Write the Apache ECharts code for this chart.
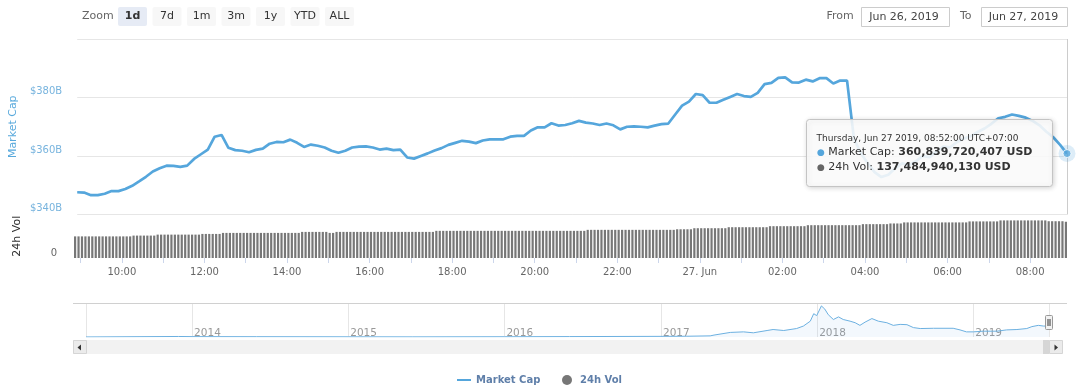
<!DOCTYPE html>
<html><head><meta charset="utf-8">
<script src="https://cdn.jsdelivr.net/npm/echarts@6/dist/echarts.min.js"></script>
<style>html,body{margin:0;padding:0;background:#fff}#c{width:1080px;height:387px}</style>
</head><body><div id="c"></div>
<script>
// ---------------- DATA ----------------
// last sample of the 1-day view (display time, UTC+07:00)
const endTime = Date.UTC(2019, 5, 27, 8, 52);
const capStepMinutes = 10;
const volStepMinutes = 5;

// Market cap, billions USD, every 10 minutes, Jun 26 08:52 -> Jun 27 08:52
const marketCapB = [
  347.6,347.5,346.6,346.6,347.1,348.0,348.0,348.7,349.8,351.3,
  352.9,354.7,355.8,356.7,356.6,356.3,356.7,359.0,360.6,362.2,
  366.6,367.2,362.8,362.0,361.8,361.3,362.1,362.5,364.2,364.8,
  364.7,365.6,364.5,363.1,363.9,363.5,362.9,361.8,361.1,361.8,
  362.9,363.2,363.3,362.9,362.2,362.5,362.0,362.2,359.5,359.1,
  360.0,360.9,361.9,362.7,363.8,364.5,365.2,364.9,364.4,365.3,
  365.7,365.7,365.7,366.6,366.9,366.9,368.7,369.8,369.8,371.2,
  370.4,370.6,371.2,372.0,371.4,371.1,370.6,371.1,370.5,369.1,
  370.0,370.1,370.0,369.8,370.4,370.9,371.1,374.2,377.2,378.6,
  381.2,380.8,378.2,378.2,379.2,380.2,381.2,380.5,380.2,381.6,
  384.6,385.0,386.7,386.9,385.2,385.1,386.1,385.5,386.6,386.6,
  384.8,385.8,385.8,366.0,361.0,357.5,354.5,352.8,353.6,355.8,
  357.5,356.8,358.2,360.0,359.6,361.5,363.2,363.0,364.8,366.0,
  366.8,368.2,369.4,371.0,372.9,373.4,374.2,373.7,373.1,372.0,
  370.5,368.3,366.4,363.8,360.839720407
];

// 24h volume, billions USD, every 5 minutes
const volume24hB = [
  82,82,82,82,82,82,82,82,82,82,
  82,82,82,82,82,82,82,
  85,85,85,85,85,85,85,
  88.7,88.7,88.7,88.7,88.7,88.7,88.7,88.7,88.7,88.7,
  88.7,88.7,88.7,
  91.3,91.3,91.3,91.3,91.3,91.3,
  95.2,95.2,95.2,95.2,95.2,95.2,95.2,95.2,95.2,95.2,
  95.2,95.2,95.2,95.2,95.2,95.2,95.2,95.2,95.2,95.2,
  95.2,95.2,95.2,
  99,99,99,99,99,99,99,99,
  95.2,95.2,
  99,99,99,99,99,99,99,99,99,99,
  99,99,99,99,99,99,99,99,99,99,
  99,99,99,99,99,99,99,99,99,
  103,103,103,103,103,103,103,103,103,103,
  103,103,103,103,103,103,103,103,103,103,
  103,103,103,103,103,103,103,103,103,103,
  103,103,103,103,103,103,103,103,103,103,
  103,103,103,103,
  106.8,106.8,106.8,106.8,106.8,106.8,106.8,106.8,106.8,106.8,
  106.8,106.8,106.8,106.8,106.8,106.8,106.8,106.8,106.8,106.8,
  106.8,106.8,106.8,106.8,106.8,106.8,
  109,109,109,109,109,
  113,113,113,113,113,113,113,113,113,113,
  116.8,116.8,116.8,116.8,116.8,116.8,116.8,116.8,116.8,116.8,
  116.8,116.8,
  120.7,120.7,120.7,120.7,120.7,120.7,120.7,120.7,120.7,120.7,
  120.7,
  124.5,124.5,124.5,124.5,124.5,124.5,124.5,124.5,124.5,124.5,
  124.5,124.5,124.5,124.5,124.5,124.5,
  128.4,128.4,128.4,128.4,128.4,128.4,128.4,128.4,
  131,131,131,131,
  135,135,135,135,135,135,135,135,135,135,
  135,135,135,135,135,135,135,135,135,
  138.8,138.8,138.8,138.8,138.8,138.8,138.8,138.8,138.8,
  142.6,142.6,142.6,142.6,142.6,142.6,142.6,142.6,142.6,142.6,
  142.6,142.6,142.6,142.6,
  139.5,139.5,139.5,139.5,139.5,
  137.48494013
];

// Navigator: all-time market cap (billions USD), as drawn
const navDates = [
  '2013-04-28','2013-11-30','2014-01-01','2014-06-01','2015-01-01','2015-06-01',
  '2016-01-01','2016-06-01','2017-01-01','2017-03-01','2017-04-26','2017-05-05',
  '2017-06-12','2017-07-13','2017-08-05','2017-09-06','2017-09-20','2017-10-15',
  '2017-11-14','2017-11-30','2017-12-16','2017-12-24','2017-12-31','2018-01-11',
  '2018-01-19','2018-01-27','2018-02-08','2018-02-20','2018-03-03','2018-03-19',
  '2018-03-31','2018-04-11','2018-04-23','2018-05-09','2018-05-24','2018-06-13',
  '2018-06-28','2018-07-14','2018-07-30','2018-08-14','2018-08-30','2018-09-30',
  '2018-11-15','2018-12-01','2018-12-16','2019-01-01','2019-01-24','2019-02-25',
  '2019-03-20','2019-04-13','2019-05-06','2019-05-18','2019-06-02','2019-06-14',
  '2019-06-22','2019-06-27'
];
const navCapB = [
  1.5,14,10,8,5,3.5,
  7,11,17,20,30,51,
  121,136,111,172,198,172,
  224,290,419,617,566,823,
  738,591,463,532,463,419,
  378,308,393,488,419,378,
  308,334,326,249,224,231,
  231,188,136,136,154,154,
  188,198,224,275,308,290,
  290,300
];

const rangeButtons = ['1d','7d','1m','3m','1y','YTD','ALL'];
const selectedRange = '1d';
const fromDate = 'Jun 26, 2019';
const toDate = 'Jun 27, 2019';
const capAxisTicks = [340, 360, 380, 400];

// ---------------- CHART ----------------
const FONT = 'DejaVu Sans';
const capColor = '#55a6dc';
const volColor = '#777777';
const MIN = 60000;
const capTimes = marketCapB.map((v, i) => endTime - (marketCapB.length - 1 - i) * capStepMinutes * MIN);
const volTimes = volume24hB.map((v, i) => endTime - (volume24hB.length - 1 - i) * volStepMinutes * MIN);
const startTime = Math.min(capTimes[0], volTimes[0]);
const capData = capTimes.map((t, i) => [t, marketCapB[i]]);
const volData = volTimes.map((t, i) => [t, volume24hB[i]]);
const navData = navDates.map((d, i) => [d, navCapB[i]]);
const lastIdx = marketCapB.length - 1;
const lastPoint = [capTimes[lastIdx], marketCapB[lastIdx]];

const mons = ['Jan','Feb','Mar','Apr','May','Jun','Jul','Aug','Sep','Oct','Nov','Dec'];
const days = ['Sunday','Monday','Tuesday','Wednesday','Thursday','Friday','Saturday'];
const pad = n => String(n).padStart(2, '0');
const fmtInt = n => Math.round(n).toString().replace(/\B(?=(\d{3})+(?!\d))/g, ',');
const ld = new Date(endTime);
const header = days[ld.getUTCDay()] + ', ' + mons[ld.getUTCMonth()] + ' ' + ld.getUTCDate() + ' ' +
  ld.getUTCFullYear() + ', ' + pad(ld.getUTCHours()) + ':' + pad(ld.getUTCMinutes()) + ':00 UTC+07:00';
const capStr = fmtInt(marketCapB[lastIdx] * 1e9) + ' USD';
const volStr = fmtInt(volume24hB[volume24hB.length - 1] * 1e9) + ' USD';

const graphics = [];
// toolbar
graphics.push({type:'text', x:82, y:16.5, style:{text:'Zoom', fill:'#666', fontSize:11, fontFamily:FONT, verticalAlign:'middle'}});
rangeButtons.forEach((b, i) => {
  const x = 118 + i * 34.5;
  const sel = b === selectedRange;
  graphics.push({type:'rect', shape:{x:x, y:7, width:29, height:19, r:2}, style:{fill: sel ? '#e6ebf5' : '#f7f7f7'}});
  graphics.push({type:'text', x:x + 14.5, y:16.5, style:{text:b, fill:'#333', fontSize:11, fontWeight: sel ? 'bold' : 'normal', fontFamily:FONT, align:'center', verticalAlign:'middle'}});
});
graphics.push({type:'text', x:826.5, y:16.5, style:{text:'From', fill:'#666', fontSize:11, fontFamily:FONT, verticalAlign:'middle'}});
graphics.push({type:'rect', shape:{x:861.5, y:7.5, width:88, height:19}, style:{fill:'#fff', stroke:'#cccccc', lineWidth:1}});
graphics.push({type:'text', x:904, y:17, style:{text:fromDate, fill:'#444', fontSize:11, fontFamily:FONT, align:'center', verticalAlign:'middle'}});
graphics.push({type:'text', x:960, y:16.5, style:{text:'To', fill:'#666', fontSize:11, fontFamily:FONT, verticalAlign:'middle'}});
graphics.push({type:'rect', shape:{x:981.5, y:7.5, width:86, height:19}, style:{fill:'#fff', stroke:'#cccccc', lineWidth:1}});
graphics.push({type:'text', x:1023.5, y:17, style:{text:toDate, fill:'#444', fontSize:11, fontFamily:FONT, align:'center', verticalAlign:'middle'}});

// navigator outline + scrollbar
graphics.push({type:'line', shape:{x1:73, y1:303.5, x2:1067, y2:303.5}, style:{stroke:'#d0d0d0', lineWidth:1}, z:5});
graphics.push({type:'rect', shape:{x:73, y:340, width:989, height:14}, style:{fill:'#f2f2f2'}});
graphics.push({type:'rect', shape:{x:73.5, y:340.5, width:13, height:13}, style:{fill:'#ebebeb', stroke:'#d5d5d5', lineWidth:1}});
graphics.push({type:'polygon', shape:{points:[[81,344.5],[81,350.5],[77.5,347.5]]}, style:{fill:'#333'}});
graphics.push({type:'rect', shape:{x:1043, y:340, width:6, height:14}, style:{fill:'#d6d6d6'}});
graphics.push({type:'rect', shape:{x:1049.5, y:340.5, width:13, height:13}, style:{fill:'#ebebeb', stroke:'#d5d5d5', lineWidth:1}});
graphics.push({type:'polygon', shape:{points:[[1054.5,344.5],[1054.5,350.5],[1058,347.5]]}, style:{fill:'#333'}});
// navigator handle
graphics.push({type:'rect', shape:{x:1045.5, y:315.5, width:7, height:14, r:1}, style:{fill:'#f2f2f2', stroke:'#999', lineWidth:1}, z:20});
graphics.push({type:'line', shape:{x1:1048, y1:319, x2:1048, y2:326}, style:{stroke:'#333', lineWidth:1}, z:21});
graphics.push({type:'line', shape:{x1:1050, y1:319, x2:1050, y2:326}, style:{stroke:'#333', lineWidth:1}, z:21});

// tooltip
graphics.push({type:'group', x:806, y:119, z:100, children:[
  {type:'rect', z:100, shape:{x:0.5, y:0.5, width:246, height:67, r:3},
   style:{fill:'rgba(255,255,255,0.87)', stroke:'#c4c4c4', lineWidth:1, shadowBlur:5, shadowOffsetX:1, shadowOffsetY:1, shadowColor:'rgba(0,0,0,0.18)'}},
  {type:'text', z:101, x:10.5, y:20, style:{text:header, fill:'#333', fontSize:9, fontFamily:FONT, verticalAlign:'middle'}},
  {type:'text', z:101, x:11, y:33.5, style:{text:'{d|\u25CF} Market Cap: {b|' + capStr + '}', fill:'#333', fontSize:11, fontFamily:FONT, verticalAlign:'middle',
    rich:{d:{fill:capColor, fontSize:9, fontFamily:FONT}, b:{fill:'#333', fontSize:11, fontWeight:'bold', fontFamily:FONT}}}},
  {type:'text', z:101, x:11, y:48.5, style:{text:'{d|\u25CF} 24h Vol: {b|' + volStr + '}', fill:'#333', fontSize:11, fontFamily:FONT, verticalAlign:'middle',
    rich:{d:{fill:'#666', fontSize:9, fontFamily:FONT}, b:{fill:'#333', fontSize:11, fontWeight:'bold', fontFamily:FONT}}}}
]});

const option = {
  useUTC: true,
  animation: false,
  backgroundColor: '#fff',
  textStyle: {fontFamily: FONT},
  grid: [
    {left:74, width:993, top:39, height:175.5},
    {left:74, width:993, top:214.5, height:43.5},
    {left:86, width:963, top:303, height:34}
  ],
  legend: [
    {data:[{name:'Market Cap', icon:'rect'}], left:452, top:370, itemWidth:14, itemHeight:2,
     textStyle:{color:'#5f7fa9', fontWeight:'bold', fontSize:10, fontFamily:FONT}, selectedMode:false},
    {data:[{name:'24h Vol', icon:'circle'}], left:557, top:370, itemWidth:10, itemHeight:10,
     textStyle:{color:'#5f7fa9', fontWeight:'bold', fontSize:10, fontFamily:FONT, padding:[0,0,0,3]}, selectedMode:false}
  ],
  xAxis: [
    {type:'time', gridIndex:0, min:startTime, max:endTime, axisLine:{show:false}, axisTick:{show:false}, axisLabel:{show:false}, splitLine:{show:false}},
    {type:'time', gridIndex:1, min:startTime, max:endTime, minInterval:2*3600000, maxInterval:2*3600000,
     axisLine:{show:false}, axisTick:{show:true, length:5, lineStyle:{color:'#ccd6eb'}},
     splitLine:{show:false},
     axisLabel:{color:'#666', fontSize:10, fontFamily:FONT, margin:9, showMinLabel:false, showMaxLabel:false, hideOverlap:false,
       formatter: function (v) {
         const d = new Date(v);
         if (d.getUTCMinutes() !== 0 || d.getUTCHours() % 2 !== 0) return '';
         if (d.getUTCHours() === 0) return d.getUTCDate() + '. ' + mons[d.getUTCMonth()];
         return pad(d.getUTCHours()) + ':00';
       }}},
    {type:'time', gridIndex:2, min:navDates[0], max:navDates[navDates.length-1], minInterval:365*86400000,
     axisLine:{show:false}, axisTick:{show:false},
     splitLine:{show:true, lineStyle:{color:'#e6e6e6', width:1}},
     axisLabel:{inside:true, color:'#999', fontSize:10.5, fontFamily:FONT, align:'left', margin:-2, padding:[0,0,0,2],
       showMinLabel:false, showMaxLabel:false,
       formatter: function (v) {
         const d = new Date(v);
         if (d.getUTCMonth() !== 0 || d.getUTCDate() !== 1) return '';
         return String(d.getUTCFullYear());
       }}}
  ],
  yAxis: [
    {type:'value', gridIndex:0, min:capAxisTicks[0], max:capAxisTicks[capAxisTicks.length-1], interval:20,
     axisLine:{show:false}, axisTick:{show:false},
     splitLine:{show:true, lineStyle:{color:'#e6e6e6', width:1}},
     axisLabel:{color:'#78b4de', fontSize:10, fontFamily:FONT, margin:15, verticalAlign:'bottom', padding:[0,0,1,0],
       formatter: v => v === capAxisTicks[capAxisTicks.length-1] ? '' : '$' + v + 'B'},
     name:'Market Cap', nameLocation:'middle', nameRotate:90, nameGap:56,
     nameTextStyle:{color:'#58a9dc', fontSize:11, fontFamily:FONT}},
    {type:'value', gridIndex:1, min:0, max:165, interval:165,
     axisLine:{show:false}, axisTick:{show:false}, splitLine:{show:false},
     axisLabel:{color:'#666', fontSize:10, fontFamily:FONT, margin:17, verticalAlign:'bottom', padding:[0,0,0,0],
       formatter: v => v === 0 ? '0' : ''},
     name:'24h Vol', nameLocation:'middle', nameRotate:90, nameGap:51,
     nameTextStyle:{color:'#333', fontSize:11, fontFamily:FONT}},
    {type:'value', gridIndex:2, min:0, max:900, show:false, splitLine:{show:false}}
  ],
  series: [
    {name:'Market Cap', type:'line', xAxisIndex:0, yAxisIndex:0, data:capData, showSymbol:false, symbol:'none',
     color:capColor, lineStyle:{color:capColor, width:2.7}, z:3,
     markLine:{silent:true, symbol:'none', label:{show:false}, lineStyle:{color:'#cccccc', width:1, type:'solid'},
       data:[{xAxis:lastPoint[0]}]}},
    {name:'24h Vol', type:'bar', xAxisIndex:1, yAxisIndex:1, data:volData, color:volColor, barWidth:2.2, itemStyle:{color:volColor}},
    {name:'hoverHalo', type:'scatter', xAxisIndex:0, yAxisIndex:0, data:[lastPoint], symbolSize:17, clip:false, silent:true,
     itemStyle:{color:'rgba(85,166,220,0.25)'}, z:5},
    {name:'hoverPoint', type:'scatter', xAxisIndex:0, yAxisIndex:0, data:[lastPoint], symbolSize:8, clip:false, silent:true,
     itemStyle:{color:capColor, borderColor:'#fff', borderWidth:1}, z:6},
    {name:'Navigator', type:'line', xAxisIndex:2, yAxisIndex:2, data:navData, showSymbol:false, symbol:'none',
     lineStyle:{color:'#6cb0e0', width:1}, areaStyle:{color:'rgba(124,181,236,0.13)'}, silent:true}
  ],
  graphic: graphics
};

const chart = echarts.init(document.getElementById('c'), null, {renderer:'canvas'});
chart.setOption(option);
</script>
</body></html>
